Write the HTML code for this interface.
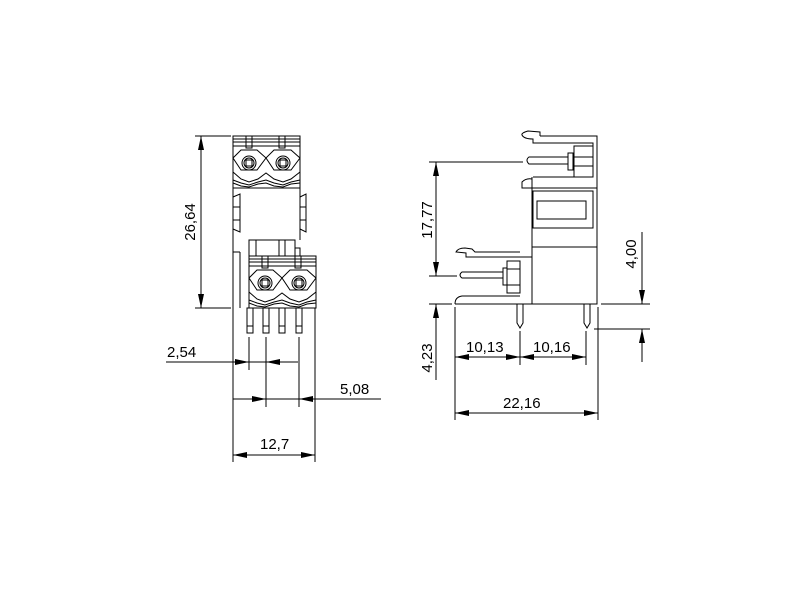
<!DOCTYPE html>
<html><head><meta charset="utf-8"><style>
html,body{margin:0;padding:0;background:#fff}
svg{display:block}
text{font-family:"Liberation Sans",sans-serif;font-size:15px;fill:#000}
</style></head><body>
<svg width="800" height="600" viewBox="0 0 800 600" xmlns="http://www.w3.org/2000/svg">
<defs>
<g id="mod" fill="none" stroke="#000" stroke-width="1">
  <rect x="0" y="0" width="67" height="52"/>
  <line x1="0" y1="3" x2="67" y2="3"/>
  <line x1="0" y1="6" x2="67" y2="6"/>
  <line x1="0" y1="10" x2="67" y2="10"/>
  <rect x="13" y="0" width="6" height="12"/>
  <rect x="46" y="0" width="6" height="12"/>
  <polyline points="0,22 8,14 24,14 33,22 41,14 58,14 67,22"/>
  <polyline points="0,22 8,34 24,34 33,22 41,34 58,34 67,22"/>
  <polyline points="0,36 8,43 16,46 25,43 33,37 41,43 50,46 58,43 67,36"/>
  <polyline points="0,44 8,47 16,49 25,46 33,44 41,47 50,49 58,46 67,44"/>
  <polyline points="0,47 8,50 16,51 25,48 33,47 41,50 50,51 58,48 67,47"/>
  <circle cx="16" cy="27" r="7"/>
  <circle cx="16" cy="27" r="5"/>
  <rect x="13" y="24" width="6" height="6"/>
  <circle cx="50" cy="27" r="7"/>
  <circle cx="50" cy="27" r="5"/>
  <rect x="47" y="24" width="6" height="6"/>
</g>
</defs>
<g fill="none" stroke="#000" stroke-width="1">
<use href="#mod" x="233" y="136"/>
<use href="#mod" x="249" y="256"/>
<polyline points="233,188 233,308"/>
<polyline points="300,188 300,240"/>
<polyline points="240,252 240,308"/>
<polyline points="233,252 240,252"/>
<polyline points="233,197 240,194 240,232 233,229"/>
<polyline points="233,207 240,207"/><polyline points="233,220 240,220"/>
<polyline points="300,197 306,194 306,232 300,229"/>
<polyline points="300,207 306,207"/><polyline points="300,220 306,220"/>
<rect x="249" y="240" width="46" height="16"/>
<line x1="256" y1="240" x2="256" y2="256"/>
<line x1="279" y1="240" x2="279" y2="256"/>
<line x1="285" y1="240" x2="285" y2="256"/>
<polyline points="295,248 300,248 300,256"/>
<rect x="247" y="308" width="6" height="25"/><line x1="247" y1="326" x2="253" y2="326"/>
<rect x="263" y="308" width="6" height="25"/><line x1="263" y1="326" x2="269" y2="326"/>
<rect x="279" y="308" width="6" height="25"/><line x1="279" y1="326" x2="285" y2="326"/>
<rect x="296" y="308" width="6" height="25"/><line x1="296" y1="326" x2="302" y2="326"/>
<line x1="195" y1="136" x2="231" y2="136"/>
<line x1="195" y1="308" x2="231" y2="308"/>
<line x1="201" y1="136" x2="201" y2="308"/>
<line x1="233" y1="308" x2="233" y2="462"/>
<line x1="315" y1="308" x2="315" y2="462"/>
<line x1="249" y1="337" x2="249" y2="370"/>
<line x1="266" y1="337" x2="266" y2="407"/>
<line x1="299" y1="337" x2="299" y2="407"/>
<line x1="166" y1="362" x2="298" y2="362"/>
<line x1="233" y1="399" x2="381" y2="399"/>
<line x1="233" y1="455" x2="315" y2="455"/>

<polyline points="540,136 597,136 597,304 455,304"/>
<path d="M540,136 L540,132 L528,131 Q521,133 522,135 Q524,139 533,139 L533,143 L593,143 L593,177 L533,177"/>
<line x1="532" y1="177" x2="532" y2="304"/>
<rect x="574" y="146" width="19" height="31"/>
<line x1="574" y1="157" x2="593" y2="157"/><line x1="574" y1="166" x2="593" y2="166"/>
<rect x="568" y="153" width="5" height="17"/>
<path d="M568,157 L529,157 Q525,160 529,164 L568,164"/>
<path d="M532,188 L522,188 L522,182 Q526,178 532,179"/>
<line x1="532" y1="188" x2="597" y2="188"/>
<rect x="533" y="191" width="60" height="37"/>
<rect x="537" y="201" width="49" height="18"/>
<line x1="532" y1="247" x2="597" y2="247"/>
<path d="M532,257 L466,257 L466,253 L456,252 Q458,248 465,248 L472,249 L475,252 L520,252"/>
<rect x="507" y="261" width="13" height="32"/>
<line x1="507" y1="269" x2="520" y2="269"/><line x1="507" y1="285" x2="520" y2="285"/>
<rect x="503" y="268" width="4" height="17"/>
<path d="M503,272 L462,272 Q458,275 462,278 L503,278"/>
<path d="M520,296 L462,296 Q455,297 455,304"/>
<path d="M517,304 L517,323 L520,328 L523,323 L523,304"/>
<path d="M584,304 L584,323 L587,328 L590,323 L590,304"/>
<line x1="429" y1="162" x2="523" y2="162"/>
<line x1="429" y1="276" x2="457" y2="276"/>
<line x1="429" y1="304" x2="452" y2="304"/>
<line x1="436" y1="162" x2="436" y2="276"/>
<line x1="436" y1="304" x2="436" y2="380"/>
<line x1="601" y1="304" x2="650" y2="304"/>
<line x1="594" y1="329" x2="650" y2="329"/>
<line x1="642" y1="232" x2="642" y2="304"/>
<line x1="642" y1="329" x2="642" y2="362"/>
<line x1="455" y1="307" x2="455" y2="420"/>
<line x1="598" y1="307" x2="598" y2="420"/>
<line x1="520" y1="331" x2="520" y2="365"/>
<line x1="586" y1="331" x2="586" y2="365"/>
<line x1="455" y1="357" x2="586" y2="357"/>
<line x1="455" y1="413" x2="598" y2="413"/>
</g>
<g fill="#000" stroke="none">
<polygon points="201,136 198,150 204,150"/>
<polygon points="201,308 198,294 204,294"/>
<polygon points="249,362 235,359 235,365"/>
<polygon points="266,362 280,359 280,365"/>
<polygon points="266,399 252,396 252,402"/>
<polygon points="299,399 313,396 313,402"/>
<polygon points="233,455 247,452 247,458"/>
<polygon points="315,455 301,452 301,458"/>
<polygon points="436,162 433,176 439,176"/>
<polygon points="436,276 433,262 439,262"/>
<polygon points="436,304 433,318 439,318"/>
<polygon points="642,304 639,290 645,290"/>
<polygon points="642,329 639,343 645,343"/>
<polygon points="455,357 469,354 469,360"/>
<polygon points="520,357 506,354 506,360"/>
<polygon points="520,357 534,354 534,360"/>
<polygon points="586,357 572,354 572,360"/>
<polygon points="455,413 469,410 469,416"/>
<polygon points="598,413 584,410 584,416"/>
</g>
<text x="167" y="357">2,54</text>
<text x="340" y="394">5,08</text>
<text x="260" y="449">12,7</text>
<text transform="translate(195,222) rotate(-90)" text-anchor="middle">26,64</text>
<text x="466" y="352">10,13</text>
<text x="533" y="352">10,16</text>
<text x="503" y="408">22,16</text>
<text transform="translate(432,220) rotate(-90)" text-anchor="middle">17,77</text>
<text transform="translate(432,358) rotate(-90)" text-anchor="middle">4,23</text>
<text transform="translate(636,254) rotate(-90)" text-anchor="middle">4,00</text>
</svg>
</body></html>
